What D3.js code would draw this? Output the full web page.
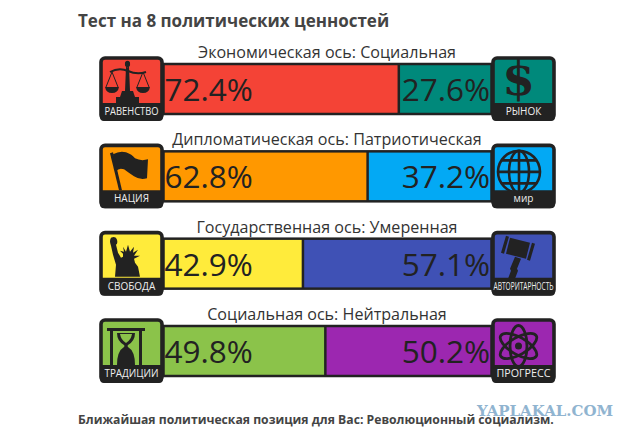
<!DOCTYPE html>
<html><head><meta charset="utf-8">
<script src="https://cdn.jsdelivr.net/npm/d3@7"></script>
<style>html,body{margin:0;padding:0;background:#fff}svg{display:block}text{font-family:"Open Sans",sans-serif}</style>
</head><body><div id="c"></div>
<script>
const axisTitles=["Экономическая ось: Социальная","Дипломатическая ось: Патриотическая","Государственная ось: Умеренная","Социальная ось: Нейтральная"];
const leftValues=[72.4,62.8,42.9,49.8];
const rightValues=[27.6,37.2,57.1,50.2];
const leftColors=["#f44336","#ff9800","#ffeb3b","#8bc34a"];
const rightColors=["#00897b","#03a9f4","#3f51b5","#9c27b0"];
const leftLabels=["РАВЕНСТВО","НАЦИЯ","СВОБОДА","ТРАДИЦИИ"];
const rightLabels=["РЫНОК","мир","АВТОРИТАРНОСТЬ","ПРОГРЕСС"];
const leftIcons=["scales","flag","liberty","hourglass"];
const rightIcons=["dollar","globe","gavel","atom"];
const chartTitle="Тест на 8 политических ценностей";
const footer="Ближайшая политическая позиция для Вас: Революционный социализм.";
const watermark="YAPLAKAL.COM";

const ink="#222";
const svg=d3.select("#c").append("svg").attr("width",640).attr("height",440);
const x=d3.scaleLinear().domain([0,100]).range([163.5,488.5]);
const y=d3.scalePoint().domain(d3.range(4)).range([56,318]);
const rows=d3.range(4);

svg.append("text").attr("x",78).attr("y",27).attr("font-size",17).attr("font-weight",700).attr("fill","#444").text(chartTitle);

const g=svg.selectAll("g.row").data(rows).join("g").attr("class","row").attr("transform",i=>`translate(0,${y(i)})`);
g.append("text").attr("x",327).attr("y",2).attr("text-anchor","middle").attr("font-size",16.1).attr("fill","#333").text(i=>axisTitles[i]);
g.append("rect").attr("x",x(0)).attr("y",8).attr("width",i=>x(leftValues[i])-x(0)).attr("height",50).attr("fill",i=>leftColors[i]);
g.append("rect").attr("x",i=>x(leftValues[i])).attr("y",8).attr("width",i=>x(100)-x(leftValues[i])+3).attr("height",50).attr("fill",i=>rightColors[i]);
g.append("rect").attr("x",x(0)).attr("y",8).attr("width",x(100)-x(0)+3).attr("height",50).attr("fill","none").attr("stroke",ink).attr("stroke-width",2.5);
g.append("line").attr("x1",i=>x(leftValues[i])).attr("x2",i=>x(leftValues[i])).attr("y1",8).attr("y2",58).attr("stroke",ink).attr("stroke-width",2.5);
g.append("text").attr("x",x(0)+1).attr("y",45).attr("font-size",31.5).attr("fill",ink).text(i=>leftValues[i].toFixed(1)+"%");
g.append("text").attr("x",x(100)+1.5).attr("y",45).attr("text-anchor","end").attr("font-size",31.5).attr("fill",ink).text(i=>rightValues[i].toFixed(1)+"%");

const glyphs={
 scales(s){
  s.append("path").attr("d","M26 8a2.6 2.6 0 1 0 5 0a2.6 2.6 0 1 0-5 0M27 11h3l1 24h-5zM23 35h11l2 6h4v6H17v-6h4z");
  s.append("path").attr("d","M11 16q9-5 18-1q9 4 18 1").attr("fill","none").attr("stroke",ink).attr("stroke-width",2);
  s.append("path").attr("d","M13 16L7 31M13 16L19 31M44 16L38 31M44 16L50 31").attr("fill","none").attr("stroke",ink).attr("stroke-width",1);
  s.append("path").attr("d","M6 31h14q-1 6-7 6t-7-6zM37 31h14q-1 6-7 6t-7-6z");
 },
 flag(s){
  s.append("path").attr("d","M11 10l3-1 9 38h-3z");
  s.append("path").attr("d","M14 11q7-4 13-2t9 6q6 3 13 1l-1 19q-7 2-13-2t-10-7q-5-2-8 2z");
 },
 liberty(s){
  s.append("path").attr("d","M12 15q-2-5 0-8q5-2 6 2q1 4-1 5l2 8 3 5 2-1v-3l-3-3 4 1-1-5 3 5 2-7 2 7 4-5-1 6 5-3-4 6 6 0-6 3 1 4 3 4 2 10H16l1-12-3-10z");
 },
 hourglass(s){
  s.append("path").attr("d","M8 10h38v3h-3v34h-3V13H14v34h-3V13H8z");
  s.append("path").attr("d","M18 15h18q0 8-7 12q-1 1 0 2q7 4 7 18H18q0-14 7-18q1-1 0-2q-7-4-7-12z");
  s.append("path").attr("d","M21 16h12q-1 6-6 9q-5-3-6-9z").attr("fill",leftColors[3]);
 },
 dollar(s){
  s.append("text").attr("x",27.5).attr("y",39).attr("text-anchor","middle").attr("font-size",47).attr("font-weight",700).style("font-family","'DejaVu Serif',serif").attr("fill",ink).text("$");
 },
 globe(s){
  const c=s.append("g").attr("fill","none").attr("stroke",ink).attr("stroke-width",2.6);
  c.append("circle").attr("cx",28).attr("cy",28.5).attr("r",21);
  c.append("ellipse").attr("cx",28).attr("cy",28.5).attr("rx",10).attr("ry",21);
  c.append("path").attr("d","M28 7.5v42M7 28.5h42M11 17h34M11 40h34");
 },
 gavel(s){
  s.append("path").attr("d","M15 5l3 1-5 17-3-1zM19 7l20 5-4 16-20-5zM41 12l3 1-5 17-3-1z");
  s.append("path").attr("d","M24 26l6 2-4 10 1 2-3 8h-7l3-8-1-2z");
 },
 atom(s){
  const c=s.append("g").attr("fill","none").attr("stroke",ink).attr("stroke-width",2.8);
  [0,60,120].forEach(a=>c.append("ellipse").attr("cx",27.5).attr("cy",28).attr("rx",8.5).attr("ry",20.5).attr("transform",`rotate(${a} 27.5 28)`));
  s.append("circle").attr("cx",27.5).attr("cy",28).attr("r",3.5);
 }
};
function icon(sel,xPos,colors,labels,icons){
 const b=sel.append("g").attr("transform",`translate(${xPos},0)`);
 b.append("rect").attr("x",2).attr("y",2).attr("width",61).attr("height",61).attr("rx",4).attr("fill",i=>colors[i]).attr("stroke",ink).attr("stroke-width",3.6);
 b.each(function(i){const s=d3.select(this).append("g").attr("fill",ink);glyphs[icons[i]](s);});
 b.append("path").attr("d","M1 47h63v14a4 4 0 0 1-4 4H5a4 4 0 0 1-4-4z").attr("fill",ink);
 b.append("text").attr("x",32.5).attr("y",59).attr("text-anchor","middle").attr("font-size",10).attr("fill","#eee")
  .attr("textLength",i=>labels[i].length>9?60:(labels[i].length>=8?54:null))
  .attr("lengthAdjust","spacingAndGlyphs").text(i=>labels[i]);
}
icon(g,99,leftColors,leftLabels,leftIcons);
icon(g,491,rightColors,rightLabels,rightIcons);

svg.append("text").attr("x",78).attr("y",424).attr("font-size",12.2).attr("font-weight",700).attr("fill","#444").text(footer);
svg.append("text").attr("x",477).attr("y",416).attr("font-size",15.5).attr("font-weight",700).style("font-family","'DejaVu Serif',serif").attr("fill","#90b4d0").attr("textLength",136).attr("lengthAdjust","spacingAndGlyphs").text(watermark);
</script></body></html>
